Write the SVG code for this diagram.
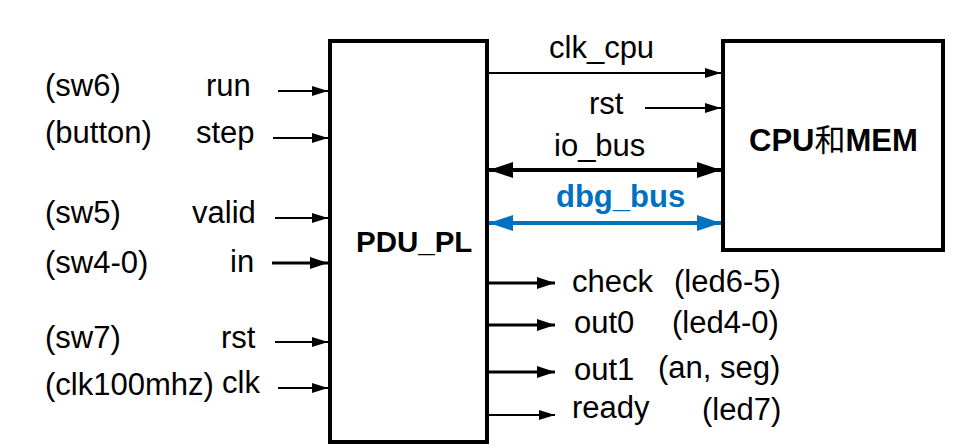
<svg xmlns="http://www.w3.org/2000/svg" width="968" height="448" viewBox="0 0 968 448">
<defs>
<style>
.t{font-family:"Liberation Sans",Arial,sans-serif;font-size:31px;fill:#000}
.b{font-family:"Liberation Sans","Noto Sans CJK SC",sans-serif;font-size:29.5px;font-weight:bold;fill:#000}
.cjk{font-family:"Noto Sans CJK SC",sans-serif;font-weight:normal}
.box{fill:#fff;stroke:#000;stroke-width:4}
.w2{stroke:#000;stroke-width:2;fill:none}
.w3{stroke:#000;stroke-width:3;fill:none}
.w4{stroke:#000;stroke-width:4;fill:none}
.blue{stroke:#0070C0;stroke-width:4;fill:none}
</style>
<marker id="ah" markerUnits="userSpaceOnUse" markerWidth="16" markerHeight="10" refX="16" refY="5" orient="auto-start-reverse">
<path d="M0,0 L16,5 L0,10 z" fill="#000"/>
</marker>
<marker id="ahm" markerUnits="userSpaceOnUse" markerWidth="18" markerHeight="12" refX="18" refY="6" orient="auto-start-reverse">
<path d="M0,0 L18,6 L0,12 z" fill="#000"/>
</marker>
<marker id="ahb" markerUnits="userSpaceOnUse" markerWidth="24" markerHeight="16" refX="24" refY="8" orient="auto-start-reverse">
<path d="M0,0 L24,8 L0,16 z" fill="#000"/>
</marker>
<marker id="ahbl" markerUnits="userSpaceOnUse" markerWidth="24" markerHeight="16" refX="24" refY="8" orient="auto-start-reverse">
<path d="M0,0 L24,8 L0,16 z" fill="#0070C0"/>
</marker>
</defs>
<rect width="968" height="448" fill="#fff"/>

<g id="connectors">
<line class="w2" x1="278" y1="91" x2="328" y2="91" marker-end="url(#ah)"/>
<line class="w2" x1="273" y1="138" x2="328" y2="138" marker-end="url(#ah)"/>
<line class="w2" x1="275" y1="218" x2="328" y2="218" marker-end="url(#ah)"/>
<line class="w3" x1="272" y1="263" x2="328" y2="263" marker-end="url(#ahm)"/>
<line class="w2" x1="275" y1="342" x2="328" y2="342" marker-end="url(#ah)"/>
<line class="w2" x1="278" y1="388" x2="328" y2="388" marker-end="url(#ah)"/>

<line class="w2" x1="489" y1="73" x2="721" y2="73" marker-end="url(#ah)"/>
<line class="w2" x1="645" y1="108" x2="721" y2="108" marker-end="url(#ah)"/>
<line class="w4" x1="489" y1="170" x2="721" y2="170" marker-start="url(#ahb)" marker-end="url(#ahb)"/>
<line class="blue" x1="489" y1="223" x2="721" y2="223" marker-start="url(#ahbl)" marker-end="url(#ahbl)"/>

<line class="w3" x1="489" y1="283" x2="555" y2="283" marker-end="url(#ahm)"/>
<line class="w3" x1="489" y1="325" x2="555" y2="325" marker-end="url(#ahm)"/>
<line class="w3" x1="489" y1="372" x2="555" y2="372" marker-end="url(#ahm)"/>
<line class="w2" x1="489" y1="415" x2="555" y2="415" marker-end="url(#ah)"/>
</g>

<g id="pdu_pl">
<rect class="box" x="330" y="41" width="157" height="401"/>
<text class="b" x="356" y="252">PDU_PL</text>
</g>

<g id="cpu_mem">
<rect class="box" x="723" y="41" width="220" height="209"/>
<text class="b" x="749" y="151" style="font-size:31px">CPU<tspan class="cjk">和</tspan>MEM</text>
</g>

<g id="inputs">
<text class="t" x="45" y="96">(sw6)</text>
<text class="t" x="206" y="96">run</text>
<text class="t" x="45" y="143">(button)</text>
<text class="t" x="196" y="143">step</text>
<text class="t" x="45" y="223">(sw5)</text>
<text class="t" x="192" y="223">valid</text>
<text class="t" x="45" y="273">(sw4-0)</text>
<text class="t" x="230" y="272">in</text>
<text class="t" x="45" y="348">(sw7)</text>
<text class="t" x="221" y="348">rst</text>
<text class="t" x="45" y="395">(clk100mhz)</text>
<text class="t" x="222" y="393">clk</text>
</g>

<g id="bus_labels">
<text class="t" x="549" y="58">clk_cpu</text>
<text class="t" x="589" y="114">rst</text>
<text class="t" x="554" y="156">io_bus</text>
<text class="b" x="556" y="207" style="fill:#0070C0;font-size:31px">dbg_bus</text>
</g>

<g id="outputs">
<text class="t" x="572" y="292">check</text>
<text class="t" x="674" y="292">(led6-5)</text>
<text class="t" x="574" y="333">out0</text>
<text class="t" x="672" y="333">(led4-0)</text>
<text class="t" x="574" y="380">out1</text>
<text class="t" x="658" y="378">(an, seg)</text>
<text class="t" x="572" y="418">ready</text>
<text class="t" x="702" y="420">(led7)</text>
</g>
</svg>
